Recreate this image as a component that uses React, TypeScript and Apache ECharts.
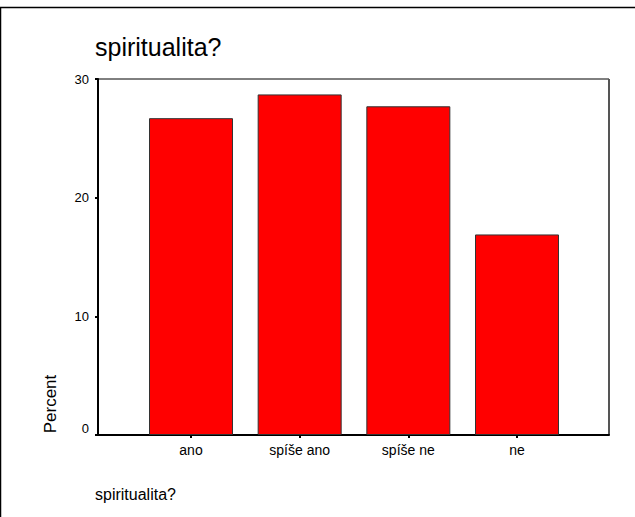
import React, { useEffect, useRef } from "react";
import * as echarts from "echarts";

const categories: string[] = ["ano", "spíše ano", "spíše ne", "ne"];
const percentValues: number[] = [26.7, 28.7, 27.7, 16.9];
const yTicks: number[] = [0, 10, 20, 30];
const chartTitle = "spiritualita?";
const xAxisName = "spiritualita?";
const yAxisName = "Percent";

const FONT = "'Liberation Sans', Arial, sans-serif";

export default function App() {
  const ref = useRef<HTMLDivElement>(null);
  useEffect(() => {
    if (!ref.current) return;
    const chart = echarts.init(ref.current, undefined, { renderer: "svg" });
    const yMin = yTicks[0];
    const yMax = yTicks[yTicks.length - 1];
    const yInterval = yTicks[1] - yTicks[0];
    chart.setOption({
      animation: false,
      backgroundColor: "#ffffff",
      textStyle: { fontFamily: FONT },
      grid: [
        { left: 98, top: 79, width: 511, height: 356, show: true, borderColor: "#000", borderWidth: 1, backgroundColor: "transparent" },
        { left: 136.67, top: 79, width: 434.67, height: 356, show: false },
      ],
      xAxis: [
        {
          gridIndex: 0, type: "value", min: 0, max: 1,
          axisLine: { show: true, onZero: false, lineStyle: { color: "#000", width: 2 } },
          axisTick: { show: false }, axisLabel: { show: false }, splitLine: { show: false },
        },
        {
          gridIndex: 1, type: "category", data: categories, boundaryGap: true,
          axisLine: { show: false },
          axisTick: { show: true, alignWithLabel: true, inside: false, length: 3, lineStyle: { color: "#000", width: 2 } },
          axisLabel: { color: "#000", fontSize: 14, margin: 8, fontFamily: FONT },
          splitLine: { show: false },
        },
      ],
      yAxis: [
        {
          gridIndex: 0, type: "value", min: yMin, max: yMax, interval: yInterval,
          axisLine: { show: true, lineStyle: { color: "#000", width: 2 } },
          axisTick: { show: true, inside: false, length: 3, lineStyle: { color: "#000", width: 2 } },
          axisLabel: {
            color: "#000", fontSize: 13, margin: 9, fontFamily: FONT,
            formatter: (v: number) => (v === 0 ? "{z|0}" : String(v)),
            rich: { z: { fontSize: 13, color: "#000", fontFamily: FONT, padding: [0, 0, 14, 0] } },
          },
          splitLine: { show: false },
        },
        { gridIndex: 1, type: "value", min: yMin, max: yMax, show: false, splitLine: { show: false } },
      ],
      series: [
        {
          type: "bar", xAxisIndex: 1, yAxisIndex: 1, data: percentValues, barWidth: 84,
          itemStyle: { color: "#ff0000", borderColor: "#333", borderWidth: 1 },
          silent: true,
        },
      ],
      graphic: [
        { type: "line", shape: { x1: 0, y1: 7.5, x2: 635, y2: 7.5 }, style: { stroke: "#000", lineWidth: 1.5 } },
        { type: "line", shape: { x1: 0.5, y1: 7, x2: 0.5, y2: 517 }, style: { stroke: "#000", lineWidth: 1.5 } },
        { type: "line", shape: { x1: 609, y1: 79, x2: 609, y2: 435 }, style: { stroke: "#555", lineWidth: 2 } },
        { type: "text", x: 95, y: 47, style: { text: chartTitle, fontSize: 25, fontFamily: FONT, fill: "#000", textAlign: "left", textVerticalAlign: "middle" } },
        { type: "text", x: 95, y: 494.5, style: { text: xAxisName, fontSize: 16, fontFamily: FONT, fill: "#000", textAlign: "left", textVerticalAlign: "middle" } },
        { type: "text", x: 50, y: 404, rotation: Math.PI / 2, style: { text: yAxisName, fontSize: 17, fontFamily: FONT, fill: "#000", textAlign: "center", textVerticalAlign: "middle" } },
      ],
    });
    return () => chart.dispose();
  }, []);
  return <div ref={ref} style={{ position: "fixed", left: 0, top: 0, width: 635, height: 517 }} />;
}
